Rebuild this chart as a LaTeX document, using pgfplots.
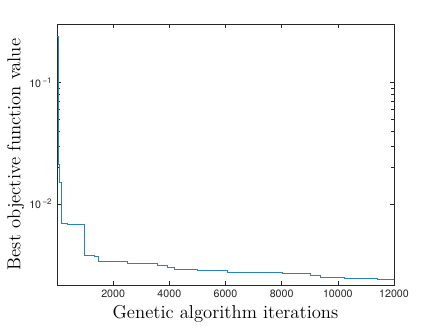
\documentclass[border=0pt]{standalone}
\usepackage{fontspec}
\usepackage{pgfplots}
\pgfplotsset{compat=1.18}
\newfontfamily\hv{TeX Gyre Heros}
\definecolor{mlblue}{RGB}{40,130,200}
\definecolor{axgray}{RGB}{38,38,38}
\begin{document}
\begin{tikzpicture}
% page frame, 436x327 px at 0.75pt per px
\path[use as bounding box] (-42.75pt,-31.5pt) rectangle (284.25pt,213.75pt);
\begin{axis}[
  scale only axis,
  width=252.75pt, height=195.75pt,
  ymode=log,
  xmin=0, xmax=12000,
  ymin=0.00214, ymax=0.305,
  xtick={2000,4000,6000,8000,10000,12000},
  ytick={0.01,0.1},
  yticklabels={10\textsuperscript{\,−2},10\textsuperscript{\,−1}},
  scaled x ticks=false,
  xticklabel style={/pgf/number format/fixed, /pgf/number format/1000 sep={}},
  /pgf/number format/assume math mode=true,
  tick label style={font=\hv\fontsize{8}{9.6}\selectfont, text=axgray},
  tick align=inside,
  major tick length=3pt, minor tick length=2pt,
  tick style={axgray, line width=0.4pt},
  axis line style={axgray, line width=0.5pt},
  xlabel={Genetic algorithm iterations},
  ylabel={Best objective function value},
  label style={font=\fontsize{14}{16}\selectfont},
  xlabel style={yshift=1pt},
  ylabel style={yshift=-3pt},
]
\addplot[const plot mark left, mlblue, line width=0.6pt] coordinates {
  (0,0.24) (40,0.0213) (103,0.0149) (174,0.00693)
  (377,0.00678) (968,0.00379) (1324,0.00367) (1467,0.00336) (2513,0.0032)
  (3581,0.00308) (3937,0.00300) (4172,0.00289) (5000,0.00284) (6073,0.0027)
  (8031,0.00265) (9039,0.00257) (9395,0.00248) (10250,0.00243)
  (11413,0.00239) (12000,0.00236)
};
\end{axis}
\end{tikzpicture}
\end{document}
